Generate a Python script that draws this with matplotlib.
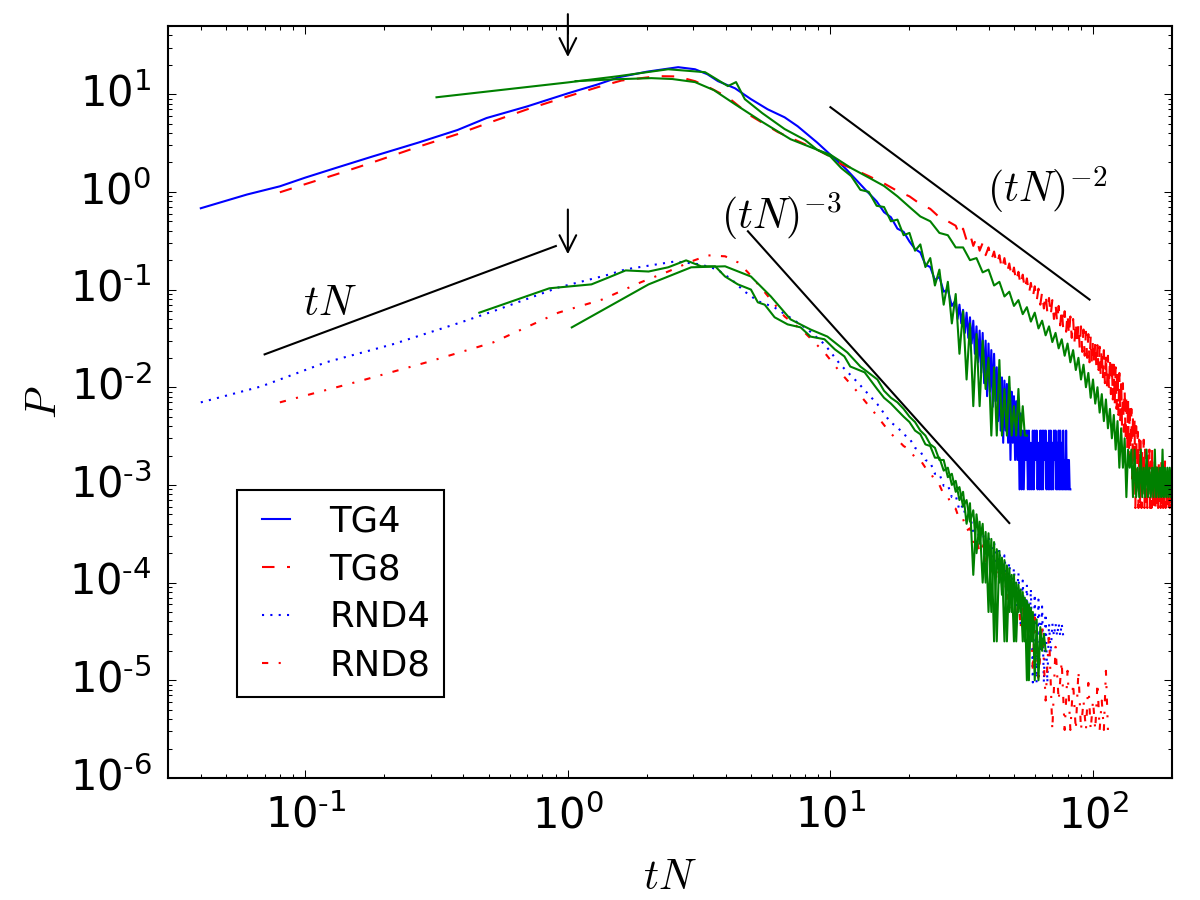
import matplotlib
matplotlib.use("Agg")
import math
import matplotlib.pyplot as plt
from matplotlib.ticker import FuncFormatter

# ---------------- data ----------------
tg4_x = [0.04, 0.06, 0.08, 0.1, 0.13, 0.18, 0.27, 0.38, 0.49, 0.7, 1.0, 1.3, 1.56, 2.0, 2.63, 3.05, 3.4, 3.73,
         4.33, 4.98, 5.77, 6.69, 7.5, 8.9, 10.0, 11.5, 13.6,
         15, 16, 17, 18, 19, 20, 21, 22, 23, 24, 25, 26, 27, 28, 29,
         30.0, 30.5, 31.0, 31.5, 32.0, 32.5, 33.0, 33.5, 34.0, 34.5, 35.0, 35.5, 36.0, 36.5, 37.0, 37.5,
         38.0, 38.5, 39.0, 39.5, 40.0, 40.5, 41.0, 41.5, 42.0, 42.5, 43.0, 43.5, 44.0, 44.5, 45.0, 45.5,
         46.0, 46.5, 47.0, 47.5, 48.0, 48.5, 49.0, 49.5, 50.0, 50.5, 51.0, 51.5, 52.0, 52.5, 53.0, 53.5,
         54.0, 54.5, 55.0, 55.5, 56.0, 56.5, 57.0, 57.5, 58.0, 58.5, 59.0, 59.5, 60.0, 60.5, 61.0, 61.5,
         62.0, 62.5, 63.0, 63.5, 64.0, 64.5, 65.0, 65.5, 66.0, 66.5, 67.0, 67.5, 68.0, 68.5, 69.0, 69.5,
         70.0, 70.5, 71.0, 71.5, 72.0, 72.5, 73.0, 73.5, 74.0, 74.5, 75.0, 75.5, 76.0, 76.5, 77.0, 77.5,
         78.0, 78.5, 79.0, 79.5, 80.0, 80.5, 81.0, 81.5, 82.0]
tg4_y = [0.68, 0.94, 1.14, 1.4, 1.75, 2.3, 3.2, 4.3, 5.7, 7.5, 10.2, 12.6, 14.9, 17.0, 18.9, 18.0, 16.0, 13.6,
         11.5, 8.9, 7.0, 5.8, 4.7, 3.2, 2.4, 1.7, 1.05,
         0.80, 0.62, 0.55, 0.42, 0.39, 0.31, 0.26, 0.24, 0.18, 0.17, 0.125, 0.135, 0.095, 0.10, 0.068,
         0.078, 0.050, 0.070, 0.045, 0.062, 0.036, 0.058, 0.032, 0.052, 0.028, 0.048, 0.022, 0.042, 0.018,
         0.038, 0.014, 0.036, 0.011, 0.030, 0.0081, 0.028, 0.0090, 0.024, 0.0063, 0.022, 0.0072, 0.016,
         0.0045, 0.014, 0.0036, 0.0126, 0.0027, 0.0117, 0.0036, 0.0108, 0.0027, 0.0099, 0.0018, 0.0090,
         0.0027, 0.0081, 0.0018, 0.0072, 0.0018, 0.0063, 0.0009, 0.0054, 0.0009, 0.0036, 0.0009, 0.0036,
         0.0018, 0.0036, 0.0009, 0.0036, 0.0009, 0.0027, 0.0009, 0.0036, 0.0009, 0.0036, 0.0018, 0.0036,
         0.0009, 0.0027, 0.0009, 0.0036, 0.0009, 0.0036, 0.0009, 0.0036, 0.0018, 0.0036, 0.0009, 0.0027,
         0.0009, 0.0036, 0.0009, 0.0036, 0.0009, 0.0027, 0.0009, 0.0036, 0.0018, 0.0036, 0.0009, 0.0027,
         0.0009, 0.0036, 0.0009, 0.0036, 0.0009, 0.0027, 0.0009, 0.0036, 0.0009, 0.0018, 0.0009, 0.0036,
         0.0009, 0.0018, 0.0009, 0.0018, 0.0009, 0.0009]

tg8_x = [0.08, 0.1, 0.13, 0.18, 0.27, 0.38, 0.49, 0.7, 1.0, 1.3, 1.6, 2.2, 2.6, 3.05, 3.5, 4.07, 4.98, 6.3, 8.9,
         10.0, 11.0, 12, 14, 16, 18, 20, 22, 24, 26, 28,
         30, 31, 32, 33, 34, 35, 36, 37, 38, 39, 40, 41, 42, 43, 44, 45, 46, 47, 48, 49, 50, 51, 52, 53,
         54, 55, 56, 57, 58, 59, 60, 61, 62, 63, 64, 65, 66, 67, 68, 69, 70, 71, 72, 73, 74, 75, 76, 77,
         78, 79, 80, 81, 82, 83, 84, 85, 86, 87, 88, 89, 90, 91, 92, 93, 94, 95, 96, 97, 98, 99, 100,
         101, 102, 103, 104, 105, 106, 107, 108, 109, 110, 111, 112, 113, 114, 115, 116, 117, 118, 119,
         120, 121, 122, 123, 124, 125, 126, 127, 128, 129, 130, 131, 132, 133, 134, 135, 136, 137, 138,
         139, 140, 141, 142, 143, 144, 145, 146, 147, 148, 149, 150, 151, 152, 153, 154, 155, 156, 157,
         158, 159, 160, 161, 162, 163, 164, 165, 166, 167, 168, 169, 170, 171, 172, 173, 174, 175, 176,
         177, 178, 179, 180, 181, 182, 183, 184, 185, 186, 187, 188, 189, 190, 191, 192, 193, 194, 195,
         196, 197, 198, 199, 200]
tg8_y = [0.99, 1.2, 1.5, 2.0, 2.9, 3.9, 5.0, 7.0, 9.5, 11.8, 13.8, 15.3, 15.2, 13.6, 11.5, 9.3, 6.0, 4.1, 2.7,
         2.3, 1.92, 1.75, 1.45, 1.22, 1.02, 0.90, 0.75, 0.67, 0.55, 0.50,
         0.45, 0.36, 0.42, 0.32, 0.37, 0.28, 0.34, 0.25, 0.30, 0.225, 0.27, 0.20, 0.245, 0.18, 0.225, 0.16,
         0.21, 0.148, 0.185, 0.133, 0.168, 0.12, 0.152, 0.11, 0.142, 0.10, 0.13, 0.09, 0.117, 0.084,
         0.108, 0.076, 0.102, 0.070, 0.094, 0.064, 0.090, 0.058, 0.082, 0.054, 0.078, 0.050, 0.072, 0.046,
         0.068, 0.043, 0.064, 0.040, 0.060, 0.037, 0.057, 0.034, 0.053, 0.032, 0.050, 0.029, 0.047, 0.027,
         0.044, 0.025, 0.042, 0.023, 0.039, 0.021, 0.037, 0.020, 0.035, 0.018, 0.033, 0.017, 0.031,
         0.017, 0.029, 0.016, 0.027, 0.015, 0.026, 0.013, 0.025, 0.012, 0.024, 0.011, 0.022, 0.010, 0.021,
         0.0095, 0.020, 0.0085, 0.018, 0.0075, 0.017, 0.0068, 0.016, 0.0060, 0.015, 0.0052, 0.014, 0.0046,
         0.012, 0.0040, 0.011, 0.0035, 0.0095, 0.0029, 0.0085, 0.0023, 0.0075, 0.0017, 0.0068, 0.0017,
         0.0060, 0.00116, 0.0052, 0.00116, 0.0046, 0.00058, 0.0040, 0.00116, 0.0035, 0.00058, 0.0029,
         0.00058, 0.0029, 0.00058, 0.0023, 0.00116, 0.0029, 0.00058, 0.0023, 0.00058, 0.00174, 0.00058,
         0.0023, 0.00116, 0.0023, 0.00058, 0.00174, 0.00058, 0.0023, 0.00058, 0.00174, 0.00058, 0.00116,
         0.00058, 0.00174, 0.00058, 0.00116, 0.00058, 0.00174, 0.00058, 0.00116, 0.00058, 0.00174, 0.00058,
         0.00116, 0.00058, 0.00116, 0.00058, 0.00174, 0.00058, 0.00116, 0.00058, 0.00116, 0.00058, 0.00058,
         0.00116, 0.00058, 0.00116, 0.00058, 0.00116, 0.00058]

rnd4_x = [0.04, 0.068, 0.12, 0.215, 0.39, 0.52, 0.92, 1.4, 1.66, 2.56, 3.2, 3.7, 4.2, 4.7, 5.3, 6.1, 7.0, 8.2,
          9.5, 10.9, 12.7, 15.1, 16.9,
          18, 19, 20, 21, 22, 23, 24, 25, 26, 27, 28, 29, 30, 31, 32, 33, 34, 35, 36, 37, 38, 39, 40, 41, 42,
          43, 44, 45, 46, 47, 48, 49, 50, 51, 52, 53, 54, 55, 56, 57, 58, 59, 60, 61, 62, 63, 64, 65, 66, 67,
          68, 69, 70, 71, 72, 73, 74, 75, 76, 77]
rnd4_y = [0.0070, 0.0102, 0.018, 0.0275, 0.046, 0.060, 0.105, 0.14, 0.161, 0.194, 0.181, 0.161, 0.127, 0.096,
          0.076, 0.066, 0.052, 0.039, 0.0275, 0.0171, 0.0112, 0.0067, 0.0044,
          0.0039, 0.0033, 0.0030, 0.0024, 0.0022, 0.0018, 0.0017, 0.0013, 0.0013, 0.00098, 0.00100, 0.00075,
          0.00078, 0.00055, 0.00062, 0.00043, 0.00050, 0.00033, 0.00042, 0.00026, 0.00034, 0.00021, 0.00030,
          0.00017, 0.00026, 0.00014, 0.00022, 0.000115, 0.00019, 0.000095, 0.00016, 0.000076, 0.00014,
          0.000057, 0.000125, 0.000038, 0.000105, 0.0000285, 0.000095, 0.000019, 0.000086, 0.0000095,
          0.000076, 0.0000095, 0.000067, 0.000019, 0.000057, 0.0000095, 0.000048, 0.0000095, 0.000038,
          0.000019, 0.000038, 0.0000285, 0.000038, 0.0000285, 0.000038, 0.0000285, 0.000038, 0.0000285]

rnd8_x = [0.08, 0.16, 0.29, 0.52, 0.92, 1.35, 1.9, 2.41, 2.95, 3.42, 3.97, 4.44, 4.85, 5.62, 6.69, 7.97, 9.49,
          10.9, 12.7, 14.7, 16.9,
          18, 19, 20, 21, 22, 23, 24, 25, 26, 27, 28, 29, 30, 31, 32, 33, 34, 35, 36, 37, 38, 39, 40, 41, 42,
          43, 44, 45, 46, 47, 48, 49, 50, 51, 52, 53, 54, 55, 56, 57, 58, 59, 60,
          62, 64, 66, 68, 70, 72, 74, 76, 78, 80, 82, 84, 86, 88, 90, 92, 94, 96, 98, 100, 102, 104, 106, 108,
          110, 112, 114]
rnd8_y = [0.0070, 0.0115, 0.018, 0.0288, 0.058, 0.079, 0.119, 0.153, 0.194, 0.224, 0.219, 0.19, 0.15, 0.094,
          0.053, 0.0364, 0.0227, 0.0142, 0.0089, 0.0055, 0.0034,
          0.0029, 0.0025, 0.0023, 0.0019, 0.0018, 0.0015, 0.00135, 0.0011, 0.00100, 0.00080, 0.00076, 0.00060,
          0.00057, 0.00044, 0.00045, 0.00034, 0.00036, 0.00026, 0.00029, 0.00020, 0.00024, 0.00016, 0.00020,
          0.00013, 0.00017, 0.000105, 0.000145, 0.000085, 0.000125, 0.000068, 0.000105, 0.000055, 0.000090,
          0.000043, 0.000078, 0.000034, 0.000068, 0.000025, 0.000059, 0.000019, 0.000050, 0.0000125, 0.000044,
          0.0000094, 0.000038, 0.0000062, 0.000031, 0.0000031, 0.000022, 0.0000062, 0.0000156, 0.0000031,
          0.0000125, 0.0000031, 0.0000094, 0.0000031, 0.0000125, 0.0000031, 0.0000062, 0.0000031, 0.0000094,
          0.0000031, 0.0000062, 0.0000031, 0.0000094, 0.0000031, 0.0000062, 0.0000031, 0.0000125, 0.0000031]

# comparison curves (green, not in legend)
green_a_x = [0.316, 1.0, 1.56, 2.0, 2.41, 3.33, 4.07, 4.37, 4.72, 5.5, 6.69, 8.0, 8.9,
             10, 11, 12, 13, 14, 15, 16, 17, 18, 19, 20, 21, 22, 23, 24, 25, 26, 27, 28, 29, 30, 31, 32, 33,
             34, 35, 36, 37, 38, 39, 40, 41, 42, 43, 44, 45, 46, 47, 48, 49, 50, 51, 52, 53, 54, 55, 56]
green_a_y = [9.3, 13.2, 15.3, 16.8, 18.0, 16.8, 12.1, 13.3, 8.9, 6.4, 4.4, 3.4, 2.7,
             2.3, 1.75, 1.45, 1.05, 1.0, 0.72, 0.70, 0.50, 0.52, 0.36, 0.38, 0.25, 0.29, 0.17, 0.21, 0.11,
             0.16, 0.07, 0.12, 0.045, 0.09, 0.022, 0.06, 0.012, 0.045, 0.0064, 0.035, 0.0064, 0.03, 0.0096,
             0.02, 0.0032, 0.016, 0.0032, 0.019, 0.0032, 0.0096, 0.0032, 0.0128, 0.0032, 0.0064, 0.0032,
             0.0096, 0.0032, 0.0064, 0.0032, 0.0032]

green_b_x = [1.07, 1.5, 2.08, 2.5, 3.05, 3.6, 4.33, 5.5, 7.05, 8.9,
             10, 12, 14, 16, 18, 20, 22, 24, 26, 28, 30, 32, 34, 36, 38, 40, 42, 44, 46, 48, 50, 52, 54, 56,
             58, 60, 62, 64, 66, 68, 70, 72, 74, 76, 78, 80, 82, 84, 86, 88, 90, 92, 94, 96, 98, 100, 102,
             104, 106, 108, 110, 112, 114, 116, 118, 120, 122, 124, 126, 128, 130, 132, 134, 136, 138, 140,
             142, 144, 146, 148, 150, 152, 154, 156, 158, 160, 162, 164, 166, 168, 170, 172, 174, 176, 178,
             180, 182, 184, 186, 188, 190, 192, 194, 196, 198, 200]
green_b_y = [13.6, 14.2, 14.6, 14.3, 13.3, 11.0, 7.9, 5.2, 3.46, 2.7,
             2.4, 1.75, 1.40, 1.15, 0.90, 0.70, 0.56, 0.50, 0.38, 0.36, 0.27, 0.27, 0.20, 0.21, 0.15, 0.16,
             0.11, 0.12, 0.085, 0.095, 0.068, 0.078, 0.056, 0.066, 0.047, 0.058, 0.040, 0.048, 0.034, 0.042,
             0.029, 0.036, 0.025, 0.031, 0.021, 0.028, 0.018, 0.024, 0.015, 0.020, 0.012, 0.017, 0.010, 0.014,
             0.0078, 0.012, 0.0068, 0.010, 0.0055, 0.0085, 0.0045, 0.0075, 0.0038, 0.0060, 0.0030, 0.0052,
             0.0023, 0.0045, 0.0015, 0.0038, 0.0015, 0.0030, 0.00075, 0.0023, 0.0015, 0.0023, 0.00075, 0.0023,
             0.00075, 0.0015, 0.00075, 0.0023, 0.00075, 0.0015, 0.00075, 0.0023, 0.00075, 0.0015, 0.00075,
             0.0015, 0.00075, 0.0023, 0.00075, 0.0015, 0.00075, 0.0015, 0.00075, 0.0023, 0.00075, 0.0015,
             0.00075, 0.0015, 0.00075, 0.0015, 0.00075, 0.0015]

green_c_x = [0.46, 0.85, 1.23, 1.43, 1.66, 2.03, 2.41, 2.82, 3.22, 3.64, 3.97, 4.44, 4.98, 5.29, 5.62, 6.13,
             6.87, 7.7, 8.4, 9.49, 10.4, 11.3, 11.9, 13.5, 15.1,
             16, 17, 18, 19, 20, 21, 22, 23, 24, 25, 26, 27, 28, 29, 30, 31, 32, 33, 34, 35, 36, 37, 38, 39,
             40, 41, 42, 43, 44, 45, 46, 47, 48, 49, 50, 51, 52, 53, 54, 55, 56, 57, 58, 59, 60]
green_c_y = [0.058, 0.103, 0.113, 0.133, 0.157, 0.153, 0.169, 0.199, 0.173, 0.173, 0.136, 0.113, 0.100, 0.074,
             0.070, 0.052, 0.044, 0.041, 0.033, 0.031, 0.0244, 0.0207, 0.0163, 0.0142, 0.0095,
             0.0078, 0.0068, 0.0058, 0.0050, 0.0044, 0.0036, 0.0033, 0.0026, 0.0025, 0.0019, 0.0019, 0.0014,
             0.0015, 0.0010, 0.0011, 0.00070, 0.00085, 0.00040, 0.00065, 0.00012, 0.00050, 0.00025, 0.00040,
             0.00010, 0.00032, 0.000050, 0.00026, 0.000025, 0.00021, 0.000075, 0.00017, 0.000025, 0.00014,
             0.000050, 0.00012, 0.000025, 0.000095, 0.000050, 0.000080, 0.000025, 0.000065, 0.000010,
             0.000055, 0.000025, 0.000040]

green_d_x = [1.035, 2.03, 2.95, 3.97, 4.98, 5.93, 7.05, 8.4, 9.74, 11.6, 13.0, 15.1,
             16, 17, 18, 19, 20, 21, 22, 23, 24, 25, 26, 27, 28, 29, 30, 31, 32, 33, 34, 35, 36, 37, 38, 39,
             40, 41, 42, 43, 44, 45, 46, 47, 48, 49, 50, 51, 52, 53, 54, 55, 56, 57, 58, 59, 60, 61, 62, 63,
             64, 65, 66]
green_d_y = [0.041, 0.113, 0.169, 0.173, 0.136, 0.085, 0.0495, 0.039, 0.033, 0.0227, 0.0163, 0.012,
             0.0092, 0.0078, 0.0070, 0.0060, 0.0050, 0.0044, 0.0036, 0.0032, 0.0026, 0.0024, 0.0018, 0.0018,
             0.0012, 0.0013, 0.00085, 0.00095, 0.00060, 0.00070, 0.00042, 0.00055, 0.00020, 0.00042, 0.00010,
             0.00033, 0.000050, 0.00028, 0.000025, 0.00022, 0.00010, 0.00018, 0.000025, 0.00015, 0.000050,
             0.00012, 0.000025, 0.000100, 0.000050, 0.000085, 0.000025, 0.000070, 0.000010, 0.000060,
             0.000025, 0.000050, 0.000010, 0.000042, 0.000010, 0.000035, 0.000020, 0.000030, 0.000020]

# guide power laws (endpoints)
guide_tn_x = [0.07, 0.9]
guide_tn_y = [0.0217, 0.279]
guide_m3_x = [4.85, 48.0]
guide_m3_y = [0.395, 4.07e-4]
guide_m2_x = [10.0, 97.0]
guide_m2_y = [7.36, 0.079]

legend_labels = ["TG4", "TG8", "RND4", "RND8"]
x_ticks = [0.1, 1, 10, 100]
y_ticks = [1e-6, 1e-5, 1e-4, 1e-3, 1e-2, 1e-1, 1, 10]

# ---------------- plotting ----------------
plt.style.use("classic")
plt.rcParams["mathtext.fontset"] = "cm"
plt.rcParams["font.family"] = ["DejaVu Sans"]
plt.rcParams["axes.unicode_minus"] = False


def decade_label(v, pos):
    e = int(round(math.log10(v)))
    if e < 0:
        return r"$\mathdefault{10^{\text{-}%d}}$" % (-e)
    return r"$\mathdefault{10^{%d}}$" % e


fig = plt.figure(figsize=(8, 6), dpi=150, facecolor="white")
ax = fig.add_axes([0.14, 0.1356, 0.8367, 0.8356])

ax.plot(tg4_x, tg4_y, "b-", lw=1.0, label=legend_labels[0])
ax.plot(tg8_x, tg8_y, "r--", lw=1.0, label=legend_labels[1])
ax.plot(rnd4_x, rnd4_y, "b:", lw=1.0, label=legend_labels[2])
ax.plot(rnd8_x, rnd8_y, "r-.", lw=1.0, label=legend_labels[3])
for gx, gy in [(green_a_x, green_a_y), (green_b_x, green_b_y),
               (green_c_x, green_c_y), (green_d_x, green_d_y)]:
    ax.plot(gx, gy, "-", color="green", lw=1.0)

ax.plot(guide_tn_x, guide_tn_y, "k-", lw=1.0)
ax.plot(guide_m3_x, guide_m3_y, "k-", lw=1.0)
ax.plot(guide_m2_x, guide_m2_y, "k-", lw=1.0)

ax.text(0.124, 0.072, r"$tN$", fontsize=20, ha="center", va="center")
ax.text(6.5, 0.56, r"$(tN)^{-3}$", fontsize=20, ha="center", va="center")
ax.text(67, 1.04, r"$(tN)^{-2}$", fontsize=20, ha="center", va="center")

arrow = dict(arrowstyle="->", color="k", lw=1.0, shrinkA=0, shrinkB=0, mutation_scale=20)
ax.annotate("", xy=(1, 24), xytext=(1, 66), arrowprops=arrow, annotation_clip=False)
ax.annotate("", xy=(1, 0.23), xytext=(1, 0.66), arrowprops=arrow, annotation_clip=False)

ax.set_xscale("log")
ax.set_yscale("log")
ax.set_xlim(0.03, 200)
ax.set_ylim(1e-6, 50)
ax.set_xticks(x_ticks)
ax.set_yticks(y_ticks)
ax.xaxis.set_major_formatter(FuncFormatter(decade_label))
ax.yaxis.set_major_formatter(FuncFormatter(decade_label))
ax.tick_params(axis="both", which="major", labelsize=20, pad=8)

ax.set_xlabel(r"$tN$", fontsize=20, labelpad=9)
ax.set_ylabel(r"$P$", fontsize=20, labelpad=2)

leg = ax.legend(loc="lower left", bbox_to_anchor=(0.069, 0.108), borderaxespad=0,
                fontsize=17, handlelength=1.4, labelspacing=0.4, frameon=True)
leg.get_frame().set_edgecolor("black")

fig.savefig("out.png", dpi=150, facecolor="white")
